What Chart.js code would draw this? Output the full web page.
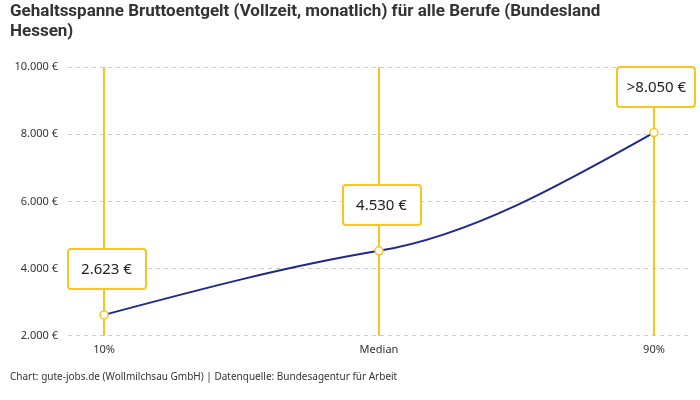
<!DOCTYPE html>
<html>
<head>
<meta charset="utf-8">
<script src="https://cdn.jsdelivr.net/npm/chart.js@4/dist/chart.umd.min.js"></script>
<style>
  html, body { margin:0; padding:0; background:#fff; }
  #wrap { width:700px; height:400px; }
</style>
</head>
<body>
<div id="wrap"><canvas id="c"></canvas></div>
<script>
/* --- Daten --- */
const categories = ['10%', 'Median', '90%'];
const salary     = [2623, 4530, 8050];
const boxLabels  = ['2.623 €', '4.530 €', '>8.050 €'];
const yTicks     = [2000, 4000, 6000, 8000, 10000];

const YELLOW = '#fbc520';
const BLUE   = '#1c2a8c';
const TXT    = '#333';
const fmt = v => v.toLocaleString('de-DE') + ' €';

/* monotone Kurve mit flacherer Mitte / steilerem Ende (wie Vorlage) */
const monoX = {
  id: 'monoX',
  beforeDatasetDraw(chart, args) {
    const line = args.meta.dataset, pts = args.meta.data, n = pts.length;
    if (n < 3) return;
    const sgn = v => v < 0 ? -1 : 1;
    const t = new Array(n);
    for (let i = 1; i < n - 1; i++) {
      const h0 = pts[i].x - pts[i-1].x, h1 = pts[i+1].x - pts[i].x;
      const s0 = (pts[i].y - pts[i-1].y) / h0, s1 = (pts[i+1].y - pts[i].y) / h1;
      const p = (s0 * h1 + s1 * h0) / (h0 + h1);
      t[i] = (sgn(s0) + sgn(s1)) / 2 * Math.min(Math.abs(s0), Math.abs(s1), 0.5 * Math.abs(p)) || 0;
    }
    const slope2 = (a, b, tt) => (3 * (b.y - a.y) / (b.x - a.x) - tt) / 2;
    t[0] = slope2(pts[0], pts[1], t[1]);
    t[n-1] = slope2(pts[n-2], pts[n-1], t[n-2]);
    pts.forEach((pt, i) => {
      const dl = i > 0 ? (pt.x - pts[i-1].x) / 3 : 0;
      const dr = i < n - 1 ? (pts[i+1].x - pt.x) / 3 : 0;
      pt.cp1x = pt.x - dl; pt.cp1y = pt.y - dl * t[i];
      pt.cp2x = pt.x + dr; pt.cp2y = pt.y + dr * t[i];
    });
    line._pointsUpdated = true;
  }
};

/* gelbe Linien + Boxen ueber den Punkten */
const boxes = {
  id: 'boxes',
  beforeDatasetsDraw(chart) {
    const {ctx, chartArea} = chart;
    const pts = chart.getDatasetMeta(0).data;
    ctx.save();
    ctx.strokeStyle = YELLOW; ctx.lineWidth = 2;
    pts.forEach(p => {
      ctx.beginPath();
      ctx.moveTo(Math.round(p.x), chartArea.top);
      ctx.lineTo(Math.round(p.x), chartArea.bottom);
      ctx.stroke();
    });
    ctx.restore();
  },
  afterDatasetsDraw(chart) {
    const {ctx} = chart;
    const pts = chart.getDatasetMeta(0).data;
    ctx.save();
    pts.forEach((p, i) => {
      const w = 78, h = 40, cx = p.x + 2.5;
      const x = Math.round(cx - w / 2), y = Math.round(p.y - 26 - h);
      ctx.beginPath();
      ctx.roundRect(x, y, w, h, 3);
      ctx.fillStyle = '#fff'; ctx.fill();
      ctx.strokeStyle = YELLOW; ctx.lineWidth = 2; ctx.stroke();
      ctx.fillStyle = '#222';
      ctx.font = '15px "Noto Sans", sans-serif';
      ctx.textAlign = 'center'; ctx.textBaseline = 'middle';
      ctx.fillText(boxLabels[i], cx, y + h / 2 + 1);
    });
    ctx.restore();
  }
};

new Chart(document.getElementById('c'), {
  type: 'line',
  data: {
    datasets: [{
      data: salary.map((v, i) => ({x: i, y: v})),
      borderColor: BLUE, borderWidth: 2,
      cubicInterpolationMode: 'monotone',
      pointRadius: 4, pointBorderWidth: 1.5,
      pointBackgroundColor: '#fff', pointBorderColor: YELLOW
    }]
  },
  plugins: [monoX, boxes],
  options: {
    responsive: true, maintainAspectRatio: false, animation: false,
    layout: { padding: { left: 10, right: 10, top: 2, bottom: 4 } },
    plugins: {
      legend: { display: false },
      tooltip: { enabled: false },
      title: {
        display: true, align: 'start',
        text: ['Gehaltsspanne Bruttoentgelt (Vollzeit, monatlich) für alle Berufe (Bundesland', 'Hessen)'],
        color: '#333',
        font: { family: '"Liberation Sans Narrow", "Roboto", sans-serif', size: 17, weight: 'bold', lineHeight: 1.15 },
        padding: { top: 0, bottom: 26 }
      },
      subtitle: {
        display: true, position: 'bottom', align: 'start',
        text: 'Chart: gute-jobs.de (Wollmilchsau GmbH) | Datenquelle: Bundesagentur für Arbeit',
        color: TXT,
        font: { family: '"Noto Sans", sans-serif', size: 10 },
        padding: { top: 8, bottom: 13 }
      }
    },
    scales: {
      x: {
        type: 'linear', min: -0.131, max: 2.131,
        afterBuildTicks: s => { s.ticks = categories.map((c, i) => ({value: i})); },
        ticks: { callback: v => categories[v], color: TXT, font: { family: '"Noto Sans", sans-serif', size: 11 }, padding: 7 },
        grid: { display: false, drawTicks: false },
        border: { display: false }
      },
      y: {
        min: 2000, max: 10000,
        afterBuildTicks: s => { s.ticks = yTicks.map(v => ({value: v})); },
        afterFit: s => { s.width = 58; },
        ticks: { callback: v => fmt(v), color: TXT, font: { family: '"Noto Sans", sans-serif', size: 11 }, padding: 10 },
        grid: { color: '#ccc', drawTicks: false },
        border: { display: false, dash: [4, 4] }
      }
    }
  }
});
</script>
</body>
</html>
